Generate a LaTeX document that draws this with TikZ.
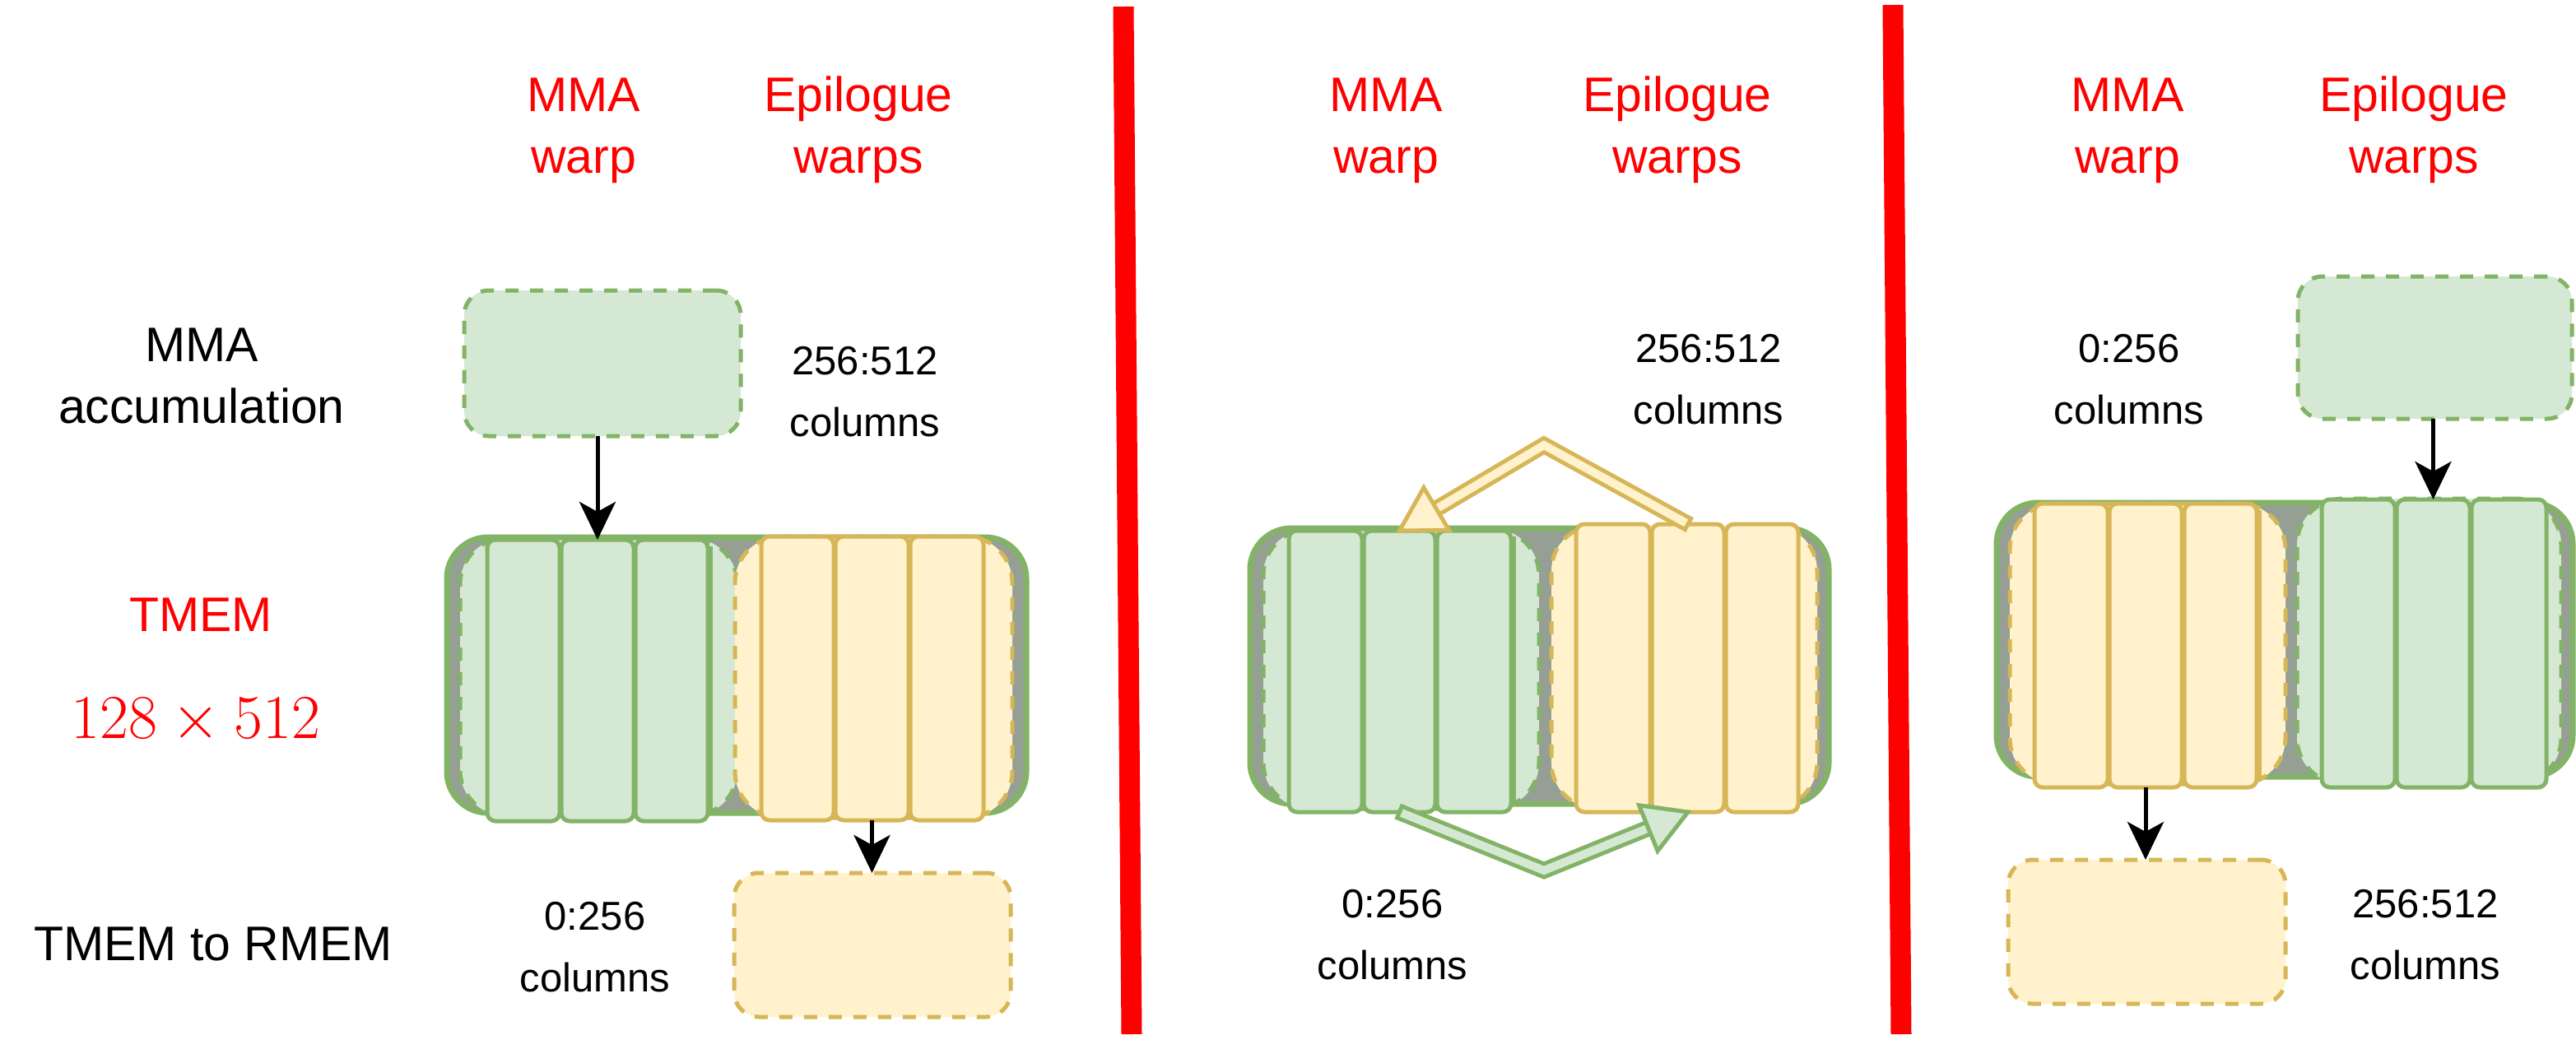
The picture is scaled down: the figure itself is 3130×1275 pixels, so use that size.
\RequirePackage{fix-cm}
\documentclass[tikz,border=0pt]{standalone}
\usepackage[no-math]{fontspec}
\setmainfont{Liberation Sans}
\usetikzlibrary{arrows.meta,calc,fit}
\definecolor{grnF}{HTML}{D5E8D4}
\definecolor{grnS}{HTML}{82B366}
\definecolor{ylwF}{HTML}{FFF2CC}
\definecolor{ylwS}{HTML}{D6B656}
\definecolor{grayF}{HTML}{959F93}
\definecolor{redT}{HTML}{FF0000}
\newcommand\twoline[2]{\begin{tabular}[t]{@{}c@{}}#1\\#2\end{tabular}}
\begin{document}
\begin{tikzpicture}[x=0.25pt,y=-0.25pt,
  bx/.style={inner sep=0pt, outer sep=0pt},
  outerbox/.style={bx, draw=grnS, fill=grayF, line width=1.75pt, rounded corners=12.5pt},
  grpG/.style={bx, draw=grnS, fill=grnF, line width=1.25pt, dash pattern=on 4pt off 3.5pt, rounded corners=14pt},
  grpY/.style={bx, draw=ylwS, fill=ylwF, line width=1.25pt, dash pattern=on 4pt off 3.5pt, rounded corners=14pt},
  cellG/.style={bx, draw=grnS, fill=grnF, line width=1.25pt, rounded corners=2.5pt},
  cellY/.style={bx, draw=ylwS, fill=ylwF, line width=1.25pt, rounded corners=2.5pt},
  dboxG/.style={bx, draw=grnS, fill=grnF, line width=1.25pt, dash pattern=on 4pt off 3.5pt, rounded corners=7.5pt},
  dboxY/.style={bx, draw=ylwS, fill=ylwF, line width=1.25pt, dash pattern=on 4pt off 3.5pt, rounded corners=7.5pt},
  sepline/.style={line width=1.25pt},
  bigtxt/.style={inner sep=0pt, anchor=base, font={\fontsize{14.75pt}{18.75pt}\selectfont}},
  smalltxt/.style={inner sep=0pt, anchor=base, font={\fontsize{12.25pt}{18.75pt}\selectfont}},
  arr/.style={line width=1.25pt, -{Stealth[length=11.5pt,width=11pt,inset=3pt]}},
  flexG/.style={draw=grnS, line width=1.25pt, double=grnF, double distance=2.5pt, line join=miter},
  flexY/.style={draw=ylwS, line width=1.25pt, double=ylwF, double distance=2.5pt, line join=miter},
  headG/.style={draw=grnS, fill=grnF, line width=1.25pt, line join=miter},
  headY/.style={draw=ylwS, fill=ylwF, line width=1.25pt, line join=miter},
  divider/.style={draw=redT, line width=6.25pt}
]
\useasboundingbox (0,0) rectangle (3130,1275);
\fill[white] (0,0) rectangle (3130,1275);

% ---------- left labels ----------
\node[bigtxt] (lblacc) at (245,439) {\twoline{MMA}{accumulation}};
\node[bigtxt, text=redT] (lbltmem) at (244,767) {TMEM};
\node[inner sep=0pt, anchor=base, text=redT, font={\fontsize{19pt}{23pt}\selectfont}] (lbldim) at (238,897) {$128\times512$};
\node[bigtxt] (lblrmem) at (259,1167) {TMEM to RMEM};

% ---------- headings ----------
\node[bigtxt, text=redT] (h1a) at (709,135) {\twoline{MMA}{warp}};
\node[bigtxt, text=redT] (h1b) at (1043,135) {\twoline{Epilogue}{warps}};
\node[bigtxt, text=redT] (h2a) at (1684,135) {\twoline{MMA}{warp}};
\node[bigtxt, text=redT] (h2b) at (2038,135) {\twoline{Epilogue}{warps}};
\node[bigtxt, text=redT] (h3a) at (2585,135) {\twoline{MMA}{warp}};
\node[bigtxt, text=redT] (h3b) at (2933,135) {\twoline{Epilogue}{warps}};

% ---------- dividers ----------
\draw[divider] (1365,8) -- (1375,1257);
\draw[divider] (2300,6) -- (2310,1257);

% ---------- panel 1 ----------
\node[outerbox, fit={(543,653) (1247,988)}] (p1out) {};
\node[grpG, fit={(559,654) (896,992)}] (p1gg) {};
\node[grpY, fit={(893,652) (1230,994)}] (p1gy) {};
\node[cellG, fit={(592,656) (680,998)}] (p1g1) {};
\node[cellG, fit={(682,656) (770,998)}] (p1g2) {};
\node[cellG, fit={(772,656) (860,998)}] (p1g3) {};
\draw[sepline, grnS] (863,664) -- (863,990);
\node[cellY, fit={(925,652) (1013,997)}] (p1y1) {};
\node[cellY, fit={(1015,652) (1104,997)}] (p1y2) {};
\node[cellY, fit={(1106,652) (1195,997)}] (p1y3) {};
\node[dboxG, fit={(564,353) (900,530)}] (p1acc) {};
\node[dboxY, fit={(892,1061) (1228,1236)}] (p1rmem) {};
\node[smalltxt] (p1c1) at (1051,455) {\twoline{256:512}{columns}};
\node[smalltxt] (p1c2) at (723,1130) {\twoline{0:256}{columns}};
\draw[arr] (p1g2.north |- p1acc.south) -- (p1g2.north);
\draw[arr] (p1y2.south) -- (p1y2.south |- p1rmem.north);

% ---------- panel 2 ----------
\node[outerbox, fit={(1519,642) (2222,977)}] (p2out) {};
\node[grpG, fit={(1535,643) (1870,983)}] (p2gg) {};
\node[grpY, fit={(1885,638) (2208,983)}] (p2gy) {};
\node[cellG, fit={(1566,645) (1655,987)}] (p2g1) {};
\node[cellG, fit={(1657,645) (1744,987)}] (p2g2) {};
\node[cellG, fit={(1746,645) (1836,987)}] (p2g3) {};
\draw[sepline, grnS] (1839,652) -- (1839,980);
\node[cellY, fit={(1915,637) (2005,987)}] (p2y1) {};
\node[cellY, fit={(2007,637) (2095,987)}] (p2y2) {};
\node[cellY, fit={(2097,637) (2185,987)}] (p2y3) {};
\node[smalltxt] (p2c1) at (2076,440) {\twoline{256:512}{columns}};
\node[smalltxt] (p2c2) at (1692,1115) {\twoline{0:256}{columns}};
% yellow flex arrow (epilogue -> mma side, over the top)
\coordinate (apxY) at (1876,541);
\coordinate (bY) at ($(p2g2.north)!13pt!(apxY)$);
\draw[flexY] (p2y2.north) -- (apxY) -- (bY);
\draw[ylwS, line width=1.25pt] ($(p2y2.north)!2.5pt!90:(apxY)$) -- ($(p2y2.north)!2.5pt!-90:(apxY)$);
\draw[headY] (p2g2.north) -- ($(bY)!7.5pt!90:(p2g2.north)$) -- ($(bY)!7.5pt!-90:(p2g2.north)$) -- cycle;
% green flex arrow (mma -> epilogue side, under the bottom)
\coordinate (apxG) at (1876,1058);
\coordinate (bG) at ($(p2y2.south)!13pt!(apxG)$);
\draw[flexG] (p2g2.south) -- (apxG) -- (bG);
\draw[grnS, line width=1.25pt] ($(p2g2.south)!2.5pt!90:(apxG)$) -- ($(p2g2.south)!2.5pt!-90:(apxG)$);
\draw[headG] (p2y2.south) -- ($(bG)!7.5pt!90:(p2y2.south)$) -- ($(bG)!7.5pt!-90:(p2y2.south)$) -- cycle;

% ---------- panel 3 ----------
\node[outerbox, fit={(2426,611) (3126,944)}] (p3out) {};
\node[grpY, fit={(2442,612) (2777,953)}] (p3gy) {};
\node[grpG, fit={(2791,606) (3112,953)}] (p3gg) {};
\node[cellY, fit={(2472,612) (2561,957)}] (p3y1) {};
\node[cellY, fit={(2563,612) (2651,957)}] (p3y2) {};
\node[cellY, fit={(2654,612) (2742,957)}] (p3y3) {};
\draw[sepline, ylwS] (2745,620) -- (2745,950);
\node[cellG, fit={(2821,607) (2910,957)}] (p3g1) {};
\node[cellG, fit={(2912,607) (3001,957)}] (p3g2) {};
\node[cellG, fit={(3003,607) (3094,957)}] (p3g3) {};
\node[dboxG, fit={(2792,336) (3125,509)}] (p3acc) {};
\node[dboxY, fit={(2440,1045) (2777,1220)}] (p3rmem) {};
\node[smalltxt] (p3c1) at (2587,440) {\twoline{0:256}{columns}};
\node[smalltxt] (p3c2) at (2947,1115) {\twoline{256:512}{columns}};
\draw[arr] (p3g2.north |- p3acc.south) -- (p3g2.north);
\draw[arr] (p3y2.south) -- (p3y2.south |- p3rmem.north);
\end{tikzpicture}
\end{document}
